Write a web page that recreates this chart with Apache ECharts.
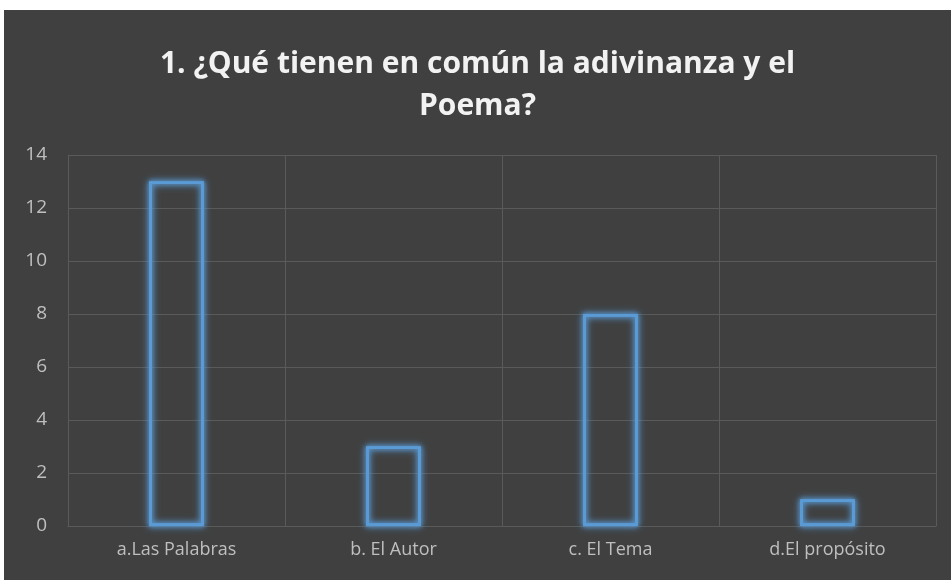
<!DOCTYPE html>
<html>
<head>
<meta charset="utf-8">
<script src="https://cdn.jsdelivr.net/npm/echarts@6/dist/echarts.min.js"></script>
<style>
  html, body { margin: 0; padding: 0; background: #ffffff; }
  #chartMain { position: absolute; left: 4px; top: 10px; width: 947px; height: 570px; }
</style>
</head>
<body>
<div id="chartMain"></div>
<script>
// datos del gráfico
var titulo = '1. ¿Qué tienen en común la adivinanza y el\nPoema?';
var categorias = ['a.Las Palabras', 'b. El Autor', 'c. El Tema', 'd.El propósito'];
var valores = [13, 3, 8, 1];
var yMin = 0, yMax = 14, yPaso = 2;

var myChart = echarts.init(document.getElementById('chartMain'));

// la misma barra repetida encima para que el brillo se note más
function capa(blur) {
    return {
        type: 'bar',
        data: valores,
        barWidth: '25%',
        barGap: '-100%',
        silent: true,
        itemStyle: {
            color: 'none',
            borderColor: '#5b9bd5',
            borderWidth: 2.5,
            shadowBlur: blur,
            shadowColor: '#5b9bd5'
        }
    };
}

myChart.setOption({
    backgroundColor: '#404040',
    animation: false,
    title: {
        text: titulo,
        left: 'center',
        top: 28,
        textStyle: {
            color: '#f2f2f2',
            fontFamily: 'Open Sans',
            fontWeight: 'bold',
            fontSize: 30,
            lineHeight: 42
        }
    },
    grid: { left: 64, right: 15, top: 145, bottom: 54 },
    xAxis: {
        type: 'category',
        data: categorias,
        axisLine: { show: true, lineStyle: { color: '#5a5a5a' } },
        axisTick: { show: false },
        splitLine: { show: true, lineStyle: { color: '#5a5a5a', width: 1 } },
        axisLabel: { color: '#bfbfbf', fontFamily: 'Open Sans', fontSize: 18, margin: 15 }
    },
    yAxis: {
        type: 'value',
        min: yMin,
        max: yMax,
        interval: yPaso,
        axisLine: { show: false },
        axisTick: { show: false },
        splitLine: { lineStyle: { color: '#5a5a5a', width: 1 } },
        axisLabel: { color: '#bfbfbf', fontFamily: 'Open Sans', fontSize: 19, margin: 21 }
    },
    series: [capa(8), capa(6), capa(4)]
});
</script>
</body>
</html>
